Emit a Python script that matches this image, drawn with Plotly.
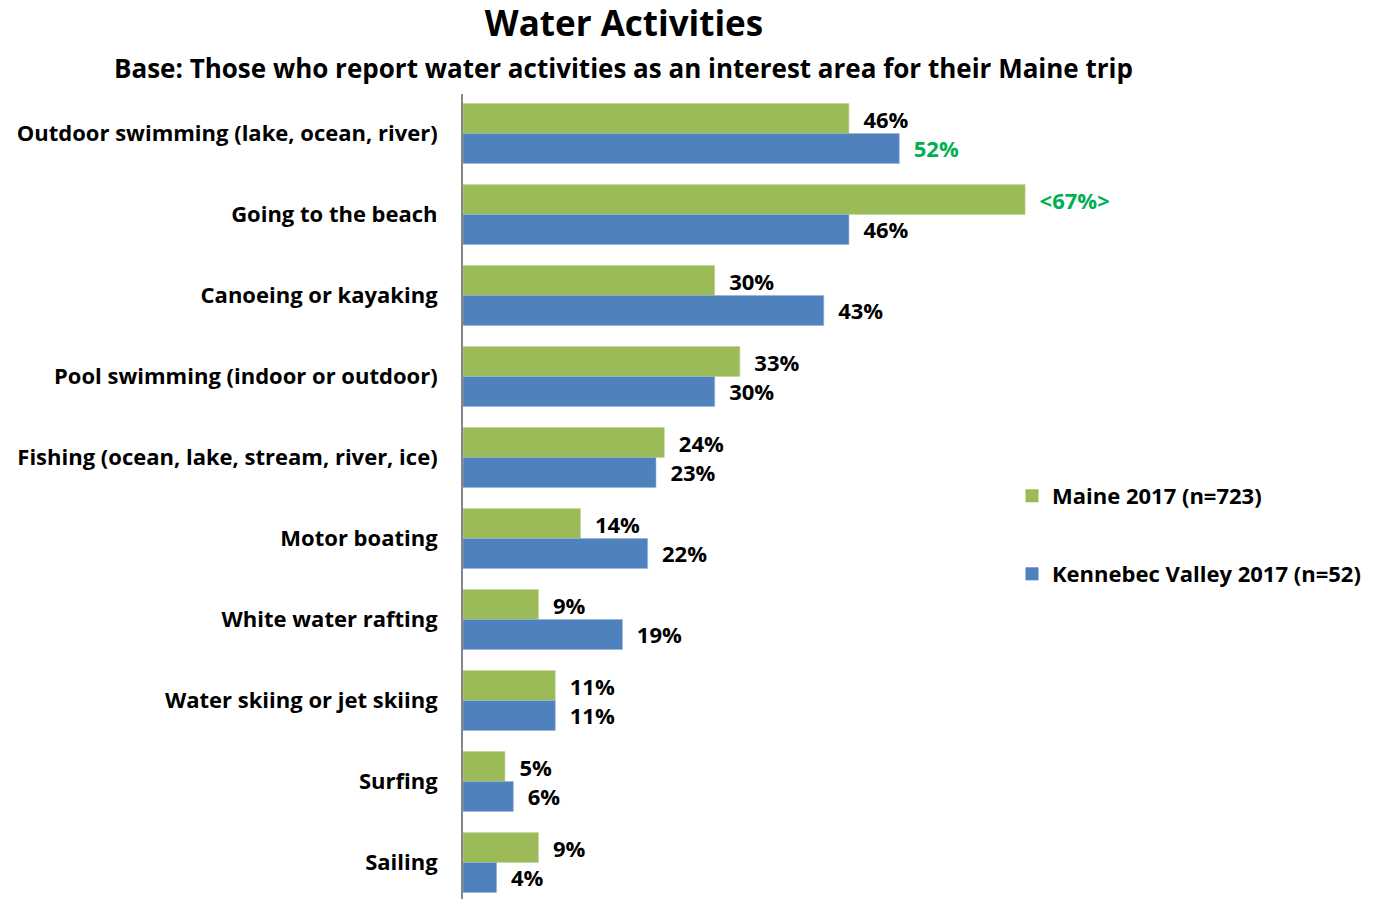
import plotly.graph_objects as go

# Survey categories (top to bottom)
categories = [
    "Outdoor swimming (lake, ocean, river)",
    "Going to the beach",
    "Canoeing or kayaking",
    "Pool swimming (indoor or outdoor)",
    "Fishing (ocean, lake, stream, river, ice)",
    "Motor boating",
    "White water rafting",
    "Water skiing or jet skiing",
    "Surfing",
    "Sailing",
]

maine_2017 = [46, 67, 30, 33, 24, 14, 9, 11, 5, 9]
kennebec_2017 = [52, 46, 43, 30, 23, 22, 19, 11, 6, 4]

# Significantly higher values are flagged in green
maine_flags = [False, True, False, False, False, False, False, False, False, False]
kennebec_flags = [True, False, False, False, False, False, False, False, False, False]

maine_name = "Maine 2017 (n=723)"
kennebec_name = "Kennebec Valley 2017 (n=52)"

GREEN = "#9BBB59"
BLUE = "#4F81BD"
SIG = "#00B050"
FONT = "Open Sans"
SIZE = 22


def labels(values, flags):
    out = []
    for v, f in zip(values, flags):
        out.append(f"  <{v}%>" if f and v > 60 else f"  {v}%")
    return out


def colors(flags):
    return [SIG if f else "#000000" for f in flags]


fig = go.Figure()
fig.add_trace(go.Bar(
    y=categories, x=maine_2017, orientation="h", name=maine_name,
    marker=dict(color=GREEN, line=dict(color="#C3D69B", width=0.6)),
    text=labels(maine_2017, maine_flags), textposition="outside",
    textfont=dict(family=FONT, size=SIZE, weight=700, color=colors(maine_flags)),
    constraintext="none", cliponaxis=False, showlegend=False,
))
fig.add_trace(go.Bar(
    y=categories, x=kennebec_2017, orientation="h", name=kennebec_name,
    marker=dict(color=BLUE, line=dict(color="#95B3D7", width=0.6)),
    text=labels(kennebec_2017, kennebec_flags), textposition="outside",
    textfont=dict(family=FONT, size=SIZE, weight=700, color=colors(kennebec_flags)),
    constraintext="none", cliponaxis=False, showlegend=False,
))

# Legend keys: square swatches, one per series
for name, color, leg in [(maine_name, GREEN, "legend"), (kennebec_name, BLUE, "legend2")]:
    fig.add_trace(go.Scatter(
        x=[None], y=[None], mode="markers", name=name,
        marker=dict(symbol="square", size=13, color=color),
        legend=leg, showlegend=True, hoverinfo="skip",
    ))

legend_font = dict(family=FONT, size=SIZE, weight=700, color="#000000")

fig.update_layout(
    width=1376, height=899,
    margin=dict(l=463, r=0, t=94, b=0),
    paper_bgcolor="white", plot_bgcolor="white",
    barmode="group", bargap=0.26, bargroupgap=0,
    showlegend=True,
    font=dict(family=FONT, size=SIZE, color="#000000", weight=700),
    title=dict(
        text="Water Activities", x=624 / 1376, xref="container", xanchor="center",
        y=1 - 24 / 899, yref="container", yanchor="middle",
        font=dict(family=FONT, size=35, weight=700, color="#000000"),
    ),
    annotations=[dict(
        text="Base: Those who report water activities as an interest area for their Maine trip",
        xref="paper", yref="paper", x=(623 - 463) / 913, y=1 + (94 - 68) / 805,
        xanchor="center", yanchor="middle", showarrow=False,
        font=dict(family=FONT, size=26, weight=700, color="#000000"),
    )],
    xaxis=dict(range=[0, 913 / 8.39], showgrid=False, zeroline=False,
               showticklabels=False, ticks="", showline=False),
    yaxis=dict(range=[9.4506, -0.4877], showgrid=False, zeroline=False,
               showline=True, linecolor="#868686", linewidth=2, ticks="",
               ticklabelstandoff=19,
               tickfont=dict(family=FONT, size=SIZE, weight=700, color="#000000")),
    legend=dict(x=(1012 - 463) / 913, y=1 - (496 - 94) / 805, xanchor="left",
                yanchor="middle", bgcolor="rgba(0,0,0,0)", font=legend_font,
                itemsizing="trace"),
    legend2=dict(x=(1012 - 463) / 913, y=1 - (574 - 94) / 805, xanchor="left",
                 yanchor="middle", bgcolor="rgba(0,0,0,0)", font=legend_font,
                 itemsizing="trace"),
)

fig.write_html("out.html")
